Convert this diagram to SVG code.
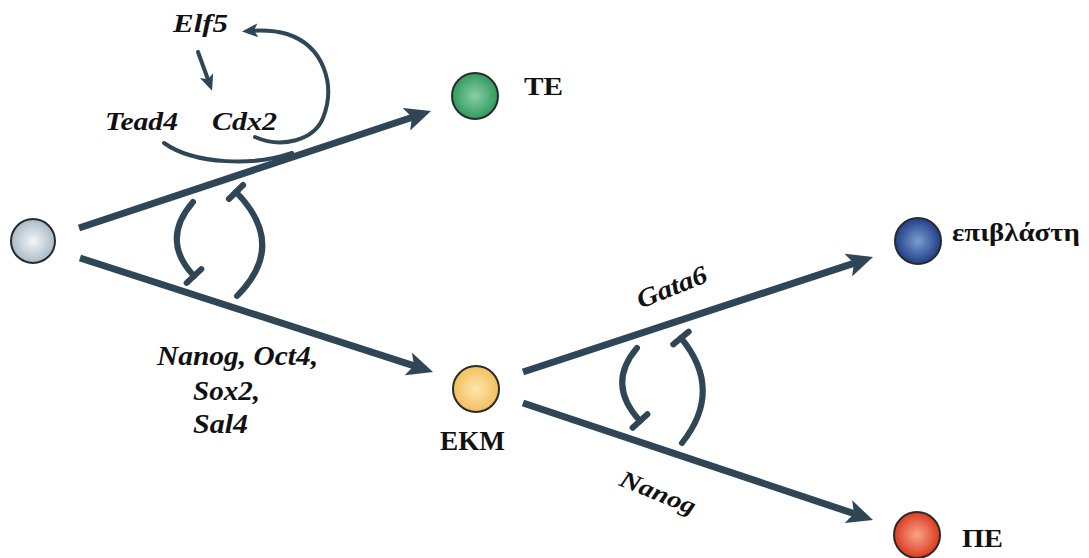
<svg xmlns="http://www.w3.org/2000/svg" width="1089" height="558" viewBox="0 0 1089 558">
  <style>
    .gene { font-family: "Liberation Serif", "Times New Roman", Times, serif; font-weight: bold; font-style: italic; fill: #111; }
    .label { font-family: "Liberation Serif", "Times New Roman", Times, serif; font-weight: bold; fill: #111; }
    .path { fill: none; stroke: #2f4656; stroke-width: 7; }
    .block { fill: none; stroke: #2f4656; stroke-width: 6; stroke-linecap: round; }
    .thin { fill: none; stroke: #2f4656; stroke-width: 4; stroke-linecap: round; }
    .cell { stroke: #2a2a2a; stroke-width: 2; }
  </style>
  <defs>
    <marker id="head" viewBox="0 0 26 24" refX="16" refY="12" markerWidth="26" markerHeight="24" markerUnits="userSpaceOnUse" orient="auto">
      <path d="M26,12 L0,0 L6,12 L0,24 Z" fill="#2f4656"/>
    </marker>
    <marker id="headSmall" viewBox="0 0 16 14" refX="10" refY="7" markerWidth="16" markerHeight="14" markerUnits="userSpaceOnUse" orient="auto">
      <path d="M16,7 L0,0 L4,7 L0,14 Z" fill="#2f4656"/>
    </marker>
    <radialGradient id="gGrey" cx="0.5" cy="0.5" r="0.5">
      <stop offset="0" stop-color="#f3f6f8"/>
      <stop offset="1" stop-color="#a9bac6"/>
    </radialGradient>
    <radialGradient id="gGreen" cx="0.5" cy="0.5" r="0.5">
      <stop offset="0" stop-color="#8ccfa6"/>
      <stop offset="1" stop-color="#2f9a5e"/>
    </radialGradient>
    <radialGradient id="gBlue" cx="0.5" cy="0.5" r="0.5">
      <stop offset="0" stop-color="#7c9ccf"/>
      <stop offset="1" stop-color="#1f3f88"/>
    </radialGradient>
    <radialGradient id="gYellow" cx="0.5" cy="0.5" r="0.5">
      <stop offset="0" stop-color="#fee6ad"/>
      <stop offset="1" stop-color="#f2bf5c"/>
    </radialGradient>
    <radialGradient id="gRed" cx="0.5" cy="0.5" r="0.5">
      <stop offset="0" stop-color="#f8a58a"/>
      <stop offset="1" stop-color="#dc3a20"/>
    </radialGradient>
  </defs>

  <rect width="1089" height="558" fill="#ffffff"/>

  <g id="connectors">
    <!-- lineage arrows -->
    <line class="path" x1="79" y1="228" x2="421.5" y2="114.2" marker-end="url(#head)"/>
    <line class="path" x1="80" y1="258" x2="423.5" y2="368.9" marker-end="url(#head)"/>
    <line class="path" x1="523" y1="372" x2="863.5" y2="260.1" marker-end="url(#head)"/>
    <line class="path" x1="523" y1="403" x2="863.5" y2="516.8" marker-end="url(#head)"/>

    <!-- mutual repression, first branch point -->
    <path class="block" d="M193,202 Q160,240 194,276"/>
    <line class="block" x1="186.7" y1="282.9" x2="201.3" y2="269.1"/>
    <path class="block" d="M237,296 Q288,245 236,192"/>
    <line class="block" x1="243.1" y1="185" x2="228.9" y2="199"/>

    <!-- mutual repression, second branch point -->
    <path class="block" d="M637,348 Q606,384 640,421"/>
    <line class="block" x1="632.6" y1="427.8" x2="647.4" y2="414.2"/>
    <path class="block" d="M682,443 Q724,390 681,338"/>
    <line class="block" x1="688.7" y1="331.6" x2="673.3" y2="344.4"/>

    <!-- Tead4 / Cdx2 / Elf5 loop -->
    <line class="thin" x1="198" y1="52" x2="210" y2="85" marker-end="url(#headSmall)"/>
    <path class="thin" d="M164,143 C195,165 255,166 292,153"/>
    <path class="thin" d="M255,137 C282,149 314,140 323,118 C336,85 324,46 287,34 C274,30 262,30 248,31" marker-end="url(#headSmall)"/>
  </g>

  <g id="node-zygote">
    <circle class="cell" cx="33" cy="241" r="22" fill="url(#gGrey)"/>
  </g>
  <g id="node-te">
    <circle class="cell" cx="475" cy="96" r="23" fill="url(#gGreen)"/>
    <text class="label" x="524" y="95" font-size="26" textLength="39" lengthAdjust="spacingAndGlyphs">TE</text>
  </g>
  <g id="node-ekm">
    <circle class="cell" cx="476" cy="389" r="23" fill="url(#gYellow)"/>
    <text class="label" x="440" y="450" font-size="28" textLength="65" lengthAdjust="spacingAndGlyphs">EKM</text>
  </g>
  <g id="node-epiblast">
    <circle class="cell" cx="918" cy="241" r="23" fill="url(#gBlue)"/>
    <text class="label" x="952" y="241" font-size="26" textLength="128" lengthAdjust="spacingAndGlyphs">επιβλάστη</text>
  </g>
  <g id="node-pe">
    <circle class="cell" cx="917" cy="535" r="23" fill="url(#gRed)"/>
    <text class="label" x="962" y="547" font-size="26" textLength="41" lengthAdjust="spacingAndGlyphs">ΠΕ</text>
  </g>

  <g id="gene-labels">
    <text class="gene" x="173" y="32" font-size="26" textLength="55" lengthAdjust="spacingAndGlyphs">Elf5</text>
    <text class="gene" x="105" y="130" font-size="26" textLength="73" lengthAdjust="spacingAndGlyphs">Tead4</text>
    <text class="gene" x="212" y="130" font-size="26" textLength="65" lengthAdjust="spacingAndGlyphs">Cdx2</text>
    <text class="gene" x="157" y="365" font-size="28" textLength="161" lengthAdjust="spacingAndGlyphs">Nanog, Oct4,</text>
    <text class="gene" x="193" y="400" font-size="28" textLength="67" lengthAdjust="spacingAndGlyphs">Sox2,</text>
    <text class="gene" x="193" y="433" font-size="28" textLength="55" lengthAdjust="spacingAndGlyphs">Sal4</text>
    <text class="gene" x="0" y="0" font-size="26" text-anchor="middle" textLength="74" lengthAdjust="spacingAndGlyphs" transform="translate(675,295) rotate(-22)">Gata6</text>
    <text class="gene" x="0" y="0" font-size="24" text-anchor="middle" textLength="80" lengthAdjust="spacingAndGlyphs" transform="translate(655,500) rotate(22)">Nanog</text>
  </g>
</svg>
